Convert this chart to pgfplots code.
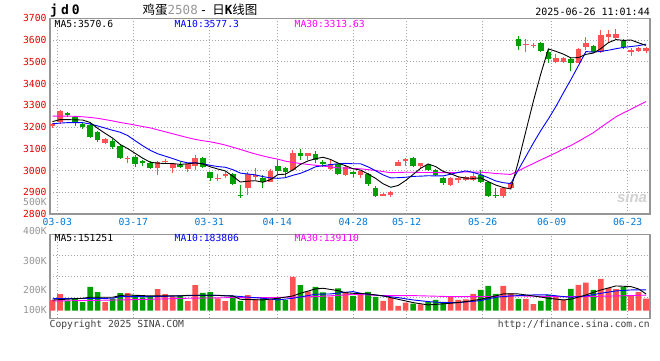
\documentclass[border=0pt]{standalone}
\usepackage{pgfplots}
\usepackage{pgfplotstable}
\pgfplotsset{compat=1.18}
\usepackage{fontspec}
\setmainfont{DejaVu Sans Mono}
\newfontfamily\cjk{Noto Sans CJK SC}
\newfontfamily\sinafont{Liberation Sans}
\definecolor{cred}{RGB}{255,82,82}
\definecolor{cgreen}{RGB}{0,160,0}
\definecolor{lblred}{RGB}{228,0,0}
\definecolor{lblblue}{RGB}{0,120,215}
\definecolor{lblgray}{RGB}{150,150,150}
\definecolor{gridgray}{RGB}{165,165,165}
\definecolor{framegray}{RGB}{150,150,150}
\definecolor{mag}{RGB}{255,0,255}

% j open high low close volume(K)
\pgfplotstableread{
j o h l c v
0 3207 3220 3195 3212 96
1 3221 3278 3212 3273 150
7 3125 3150 3123 3143 78
10 3055 3066 3036 3057 158
14 3012 3042 2980 3040 195
15 3038 3052 3030 3045 150
16 3010 3032 2990 3028 127
18 3006 3030 2993 3028 87
19 3020 3072 3003 3058 231
22 2960 2982 2953 2967 112
23 2975 2991 2964 2982 87
26 2918 2991 2887 2982 141
27 2970 3010 2958 2979 104
29 2949 3007 2946 2999 96
32 3002 3094 2998 3079 305
34 3068 3082 3050 3080 175
37 3008 3048 3002 3030 127
39 2979 3025 2975 3018 163
41 2980 3000 2965 2997 155
44 2886 2897 2882 2892 88
45 2889 2906 2876 2903 115
46 3022 3048 3020 3039 43
47 3046 3058 3020 3054 73
49 3020 3036 3012 3033 58
53 2934 2970 2930 2967 132
54 2960 2971 2941 2966 97
55 2956 2975 2950 2971 103
56 2957 2990 2953 2975 151
60 2884 2925 2872 2918 223
61 2918 2945 2915 2941 157
63 3577 3603 3546 3583 106
64 3575 3588 3562 3578 60
67 3497 3536 3493 3516 125
68 3500 3520 3493 3516 100
70 3496 3565 3494 3557 232
71 3569 3615 3554 3588 253
73 3546 3646 3542 3623 286
74 3615 3646 3592 3626 203
75 3608 3649 3603 3626 195
77 3543 3562 3528 3554 137
78 3551 3569 3546 3562 168
79 3551 3569 3542 3562 108
}\redtab

\pgfplotstableread{
j o h l c v
2 3265 3270 3245 3258 89
3 3245 3250 3205 3218 112
4 3215 3220 3192 3200 78
5 3210 3220 3150 3155 214
6 3178 3182 3132 3140 168
8 3137 3145 3100 3108 108
9 3113 3118 3052 3056 158
11 3063 3070 3018 3030 141
12 3045 3050 3020 3033 121
13 3035 3045 3008 3012 130
17 3025 3040 3013 3016 132
20 3058 3062 3012 3018 160
21 2992 2995 2953 2964 168
24 2984 2990 2933 2938 132
25 2888 2935 2872 2884 88
28 2967 2979 2920 2945 112
30 3022 3050 2985 2998 116
31 3010 3018 2970 2995 96
33 3079 3099 3048 3068 231
35 3076 3090 3033 3048 215
36 3040 3048 3018 3028 165
38 3028 3032 2979 2984 202
40 2995 2998 2968 2982 133
42 2985 2990 2930 2938 169
43 2920 2928 2880 2884 124
48 3058 3060 3018 3021 64
50 3025 3030 2998 3003 78
51 3002 3005 2975 2980 97
52 2967 2970 2935 2941 80
57 2979 3002 2941 2949 187
58 2945 2948 2880 2884 223
59 2888 2918 2872 2885 151
62 3603 3618 3554 3572 106
65 3585 3592 3546 3551 88
66 3546 3554 3493 3513 142
69 3511 3516 3459 3493 196
72 3572 3577 3539 3546 187
76 3595 3603 3557 3569 212
}\greentab

% price moving averages: MA5, MA10, MA30
\pgfplotstableread{
j m5 m10 m30
0 3225 3215 3250
1 3234 3218 3250
2 3234 3220 3250
3 3233 3220 3249
4 3232 3220 3247
5 3221 3214 3244
6 3194 3205 3240
7 3171 3195 3234
8 3149 3185 3228
9 3120 3176 3221
10 3101 3161 3215
11 3079 3137 3209
12 3057 3114 3202
13 3038 3093 3196
14 3034 3077 3187
15 3032 3066 3178
16 3032 3055 3169
17 3028 3043 3160
18 3031 3035 3151
19 3035 3035 3143
20 3030 3031 3137
21 3017 3024 3132
22 3007 3018 3125
23 2998 3015 3117
24 2974 3004 3107
25 2947 2988 3097
26 2951 2984 3086
27 2953 2980 3076
28 2946 2972 3067
29 2958 2966 3059
30 2981 2964 3052
31 2983 2967 3043
32 3003 2978 3037
33 3028 2987 3032
34 3044 3001 3028
35 3054 3017 3024
36 3061 3022 3020
37 3051 3027 3017
38 3034 3031 3012
39 3022 3033 3011
40 3008 3031 3009
41 3002 3031 3008
42 2984 3017 3004
43 2964 2999 3000
44 2939 2980 2995
45 2923 2966 2990
46 2931 2967 2991
47 2954 2969 2992
48 2982 2973 2992
49 3010 2974 2991
50 3030 2976 2991
51 3018 2975 2991
52 2996 2975 2990
53 2985 2983 2990
54 2971 2991 2991
55 2965 2998 2994
56 2964 2991 2993
57 2966 2981 2992
58 2949 2967 2990
59 2933 2952 2986
60 2922 2944 2984
61 2915 2940 2982
62 3040 3003 2998
63 3180 3064 3016
64 3318 3126 3032
65 3445 3184 3049
66 3559 3237 3065
67 3548 3294 3081
68 3535 3357 3099
69 3518 3418 3115
70 3519 3482 3134
71 3534 3547 3154
72 3540 3544 3174
73 3561 3548 3199
74 3588 3553 3223
75 3602 3560 3247
76 3598 3566 3265
77 3600 3570 3282
78 3587 3574 3300
79 3575 3581 3317
}\matab

% volume moving averages (K)
\pgfplotstableread{
j v
0 96
4 112
5 121
8 121
9 136
10 142
13 133
17 133
18 139
22 139
23 133
24 133
25 103
28 97
30 112
32 133
33 157
35 196
36 202
38 181
39 162
40 157
42 151
44 133
46 103
48 73
50 52
53 67
55 82
57 103
59 133
60 151
62 151
64 133
66 112
68 97
69 103
71 142
73 187
75 223
77 217
78 196
79 151
}\vfive

\pgfplotstableread{
j v
0 108
8 112
9 127
14 127
18 136
21 139
24 133
28 112
30 97
32 112
35 148
37 151
39 166
40 172
41 157
44 133
46 118
48 97
50 82
52 73
54 73
57 91
59 121
61 133
64 142
66 142
68 127
69 121
71 133
73 157
75 178
77 187
79 187
}\vten

\pgfplotstableread{
j v
0 87
9 97
13 103
18 112
24 118
29 118
35 127
39 142
40 148
44 136
48 136
53 127
57 127
62 133
66 127
71 127
75 133
79 140
}\vthirty

\pgfplotsset{
  sinabase/.style={
    scale only axis, width=600pt,
    xmin=-0.333, xmax=79.53,
    axis line style={draw=framegray, line width=1.3pt},
    xtick={0.64,10.75,20.87,29.92,40.04,47.14,57.26,66.44,76.56},
    grid=major,
    major grid style={draw=gridgray, line width=0.9pt, dash pattern=on 1pt off 2pt},
    major tick length=0pt,
    ticklabel style={font=\fontsize{9.7}{11}\selectfont},
    /pgf/number format/assume math mode=true,
    clip=true,
  },
}

\begin{document}
\begin{tikzpicture}[x=1pt,y=1pt]
\useasboundingbox[fill=white] (0pt,0pt) rectangle (660pt,360pt);

% ---------- price panel ----------
\begin{axis}[sinabase,
  at={(50pt,146pt)}, anchor=south west, height=195.75pt,
  ymin=2800, ymax=3700,
  ytick={2800,2900,3000,3100,3200,3300,3400,3500,3600,3700},
  yticklabels={2800,2900,3000,3100,3200,3300,3400,3500,3600,3700},
  yticklabel style={text=lblred, text height=7pt, text depth=0pt, inner ysep=0pt},
  xticklabels={03-03,03-17,03-31,04-14,04-28,05-12,05-26,06-09,06-23},
  xticklabel style={text=lblblue, yshift=-0.5pt},
]
% wicks
\addplot[draw=none, mark=none, forget plot,
  error bars/.cd, y dir=both, y explicit, error mark=none,
  error bar style={draw=cred, line width=1pt}]
  table[x=j, y expr={(\thisrow{h}+\thisrow{l})/2}, y error expr={(\thisrow{h}-\thisrow{l})/2}] {\redtab};
\addplot[draw=none, mark=none, forget plot,
  error bars/.cd, y dir=both, y explicit, error mark=none,
  error bar style={draw=cgreen, line width=1pt}]
  table[x=j, y expr={(\thisrow{h}+\thisrow{l})/2}, y error expr={(\thisrow{h}-\thisrow{l})/2}] {\greentab};
% bodies
\addplot[draw=none, mark=none, forget plot,
  error bars/.cd, y dir=both, y explicit, error mark=none,
  error bar style={draw=cred, line width=5.6pt}]
  table[x=j, y expr={(\thisrow{o}+\thisrow{c})/2}, y error expr={max(abs(\thisrow{c}-\thisrow{o})/2,2.3)}] {\redtab};
\addplot[draw=none, mark=none, forget plot,
  error bars/.cd, y dir=both, y explicit, error mark=none,
  error bar style={draw=cgreen, line width=5.6pt}]
  table[x=j, y expr={(\thisrow{o}+\thisrow{c})/2}, y error expr={max(abs(\thisrow{c}-\thisrow{o})/2,2.3)}] {\greentab};
% moving averages
\addplot[mag, line width=0.9pt, mark=none] table[x=j, y=m30] {\matab};
\addplot[blue, line width=0.9pt, mark=none] table[x=j, y=m10] {\matab};
\addplot[black, line width=0.9pt, mark=none] table[x=j, y=m5] {\matab};
\end{axis}

% ---------- volume panel ----------
\begin{axis}[sinabase,
  at={(50pt,41.7pt)}, anchor=south west, height=84pt,
  ymin=-68.5, ymax=688,
  ytick={121,310,499}, yticklabels={},
  xticklabels={},
]
\addplot[ybar, bar width=5.6pt, bar shift=0pt, fill=cred, draw=none] table[x=j, y=v] {\redtab};
\addplot[ybar, bar width=5.6pt, bar shift=0pt, fill=cgreen, draw=none] table[x=j, y=v] {\greentab};
\addplot[mag, line width=0.9pt, mark=none] table[x=j, y=v] {\vthirty};
\addplot[blue, line width=0.9pt, mark=none] table[x=j, y=v] {\vten};
\addplot[black, line width=0.9pt, mark=none] table[x=j, y=v] {\vfive};
\end{axis}

% ---------- texts ----------
\node[anchor=west, inner sep=0, font=\bfseries\fontsize{13}{14}\selectfont] at (50pt,349pt) {j\hspace{3pt}d\hspace{3pt}0};
\node[anchor=center, inner sep=0, font=\fontsize{12.5}{14}\selectfont] at (200pt,350pt)
  {{\cjk 鸡蛋}{\color{lblgray}2508}\hspace{2pt}-\hspace{5pt}{\cjk 日}\textbf{K}{\cjk 线图}};
\node[anchor=east, inner sep=0, font=\fontsize{10}{12}\selectfont] at (650pt,348pt) {2025-06-26 11:01:44};

\begin{scope}[font=\fontsize{9.7}{11}\selectfont]
\node[anchor=west, inner sep=0] at (54.5pt,336.5pt) {MA5:3570.6};
\node[anchor=west, inner sep=0, text=blue] at (174.5pt,336.5pt) {MA10:3577.3};
\node[anchor=west, inner sep=0, text=mag] at (294.5pt,336.5pt) {MA30:3313.63};

\node[anchor=west, inner sep=0] at (54.5pt,121.7pt) {MA5:151251};
\node[anchor=west, inner sep=0, text=blue] at (174.5pt,121.7pt) {MA10:183806};
\node[anchor=west, inner sep=0, text=mag] at (294.5pt,121.7pt) {MA30:139110};

\begin{scope}[every node/.style={anchor=east, inner sep=0, text=lblgray, text height=7pt, text depth=0pt}]
\node at (46.8pt,157.8pt) {500K};
\node at (46.8pt,129pt) {400K};
\node at (46.8pt,99pt) {300K};
\node at (46.8pt,70pt) {200K};
\node at (46.8pt,50pt) {100K};
\end{scope}

\node[anchor=west, inner sep=0, text=black!75] at (49.5pt,35.5pt) {Copyright 2025 SINA.COM};
\node[anchor=east, inner sep=0, text=black!75] at (650pt,35.5pt) {http://finance.sina.com.cn};
\end{scope}

\node[anchor=center, inner sep=0, text=black!18, font=\sinafont\bfseries\itshape\fontsize{15}{15}\selectfont] at (632pt,163pt) {sina};
\end{tikzpicture}
\end{document}
